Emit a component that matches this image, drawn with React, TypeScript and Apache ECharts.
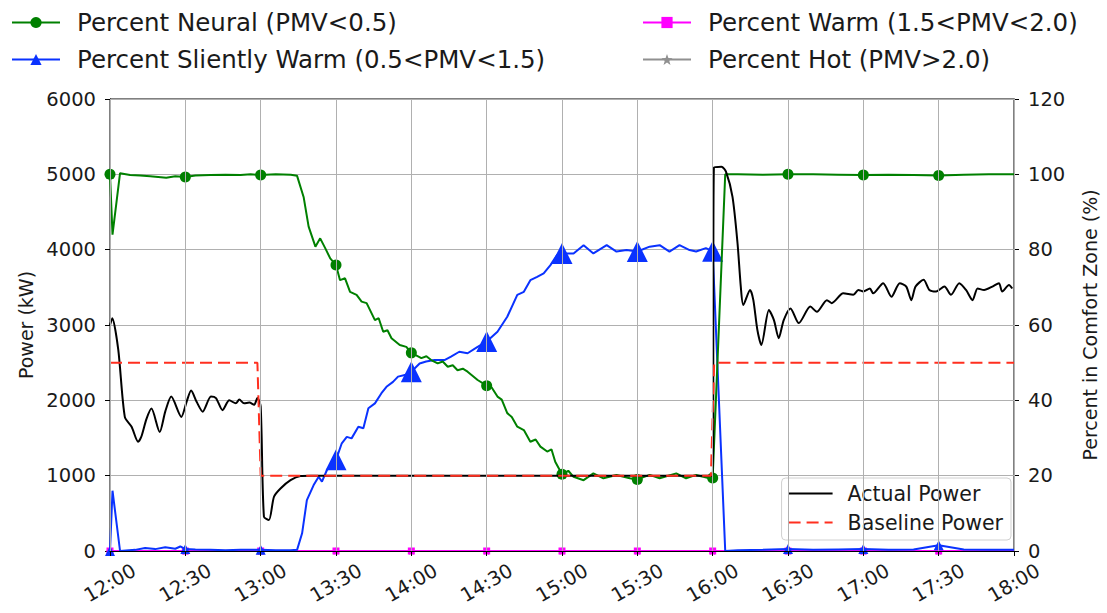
import React, { useEffect, useRef } from "react";
import * as echarts from "echarts";

// Time axis is in minutes after 12:00; every 30 minutes gets a tick.
const timeTicks = ["12:00", "12:30", "13:00", "13:30", "14:00", "14:30", "15:00", "15:30", "16:00", "16:30", "17:00", "17:30", "18:00"];

// [minute, kW]
const actualPower: [number, number][] = [
  [0, 3000], [0.9, 3090], [3.3, 2670], [5.9, 1780], [8.6, 1650], [11.2, 1450], [12.5, 1520], [14.5, 1750],
  [16.5, 1890], [19.8, 1580], [22, 1850], [24.4, 2050], [28.4, 1780], [30.5, 1980], [32.3, 2130], [34.5, 1980],
  [36.9, 1850], [40.2, 2050], [42.2, 2030], [44.8, 1870], [47.5, 2000], [50.1, 1960], [51.5, 2010], [53.4, 1960],
  [55.5, 1970], [57.4, 1940], [58.7, 2030], [60, 1920], [61.3, 455], [63.3, 412], [65.3, 720], [67.9, 830],
  [71.9, 940], [75.8, 995], [80, 1000], [120, 1000], [180, 1000], [240, 1000], [240.5, 5090], [243.5, 5100],
  [245.3, 5035], [247.9, 4700], [249.9, 4085], [251.2, 3510], [252.2, 3265], [254.9, 3465], [256.2, 3330],
  [257.8, 2935], [259.4, 2735], [262.4, 3200], [264.4, 3065], [266.3, 2825], [268.3, 3065], [271, 3220],
  [274.3, 3025], [278.9, 3245], [281.5, 3175], [285.5, 3330], [287.4, 3290], [292, 3420], [296, 3400],
  [298, 3465], [300, 3445], [302.6, 3485], [303.9, 3420], [307.9, 3555], [311.2, 3375], [314.5, 3555],
  [317.1, 3510], [319.1, 3330], [320.8, 3510], [324, 3600], [326.3, 3465], [329, 3445], [332.3, 3510],
  [334.9, 3400], [338.2, 3555], [340.9, 3465], [343.5, 3330], [345.5, 3485], [348.1, 3465], [351.4, 3510],
  [354, 3555], [355.3, 3445], [358, 3530], [359.3, 3485],
];

const baselinePower: [number, number][] = [
  [0, 2500], [58.7, 2500], [60, 1000], [239.3, 1000], [240.6, 2500], [360, 2500],
];

// [minute, % of occupants]
const neutralPct: [number, number][] = [
  [0, 100], [1, 84], [4, 100.3], [8, 99.8], [12, 99.7], [16, 99.5], [22.4, 99.1], [26, 99.5], [30, 99.3],
  [34, 99.7], [40, 99.8], [46, 99.9], [52, 99.8], [56, 100], [60, 99.8], [66, 100], [72, 99.9], [74.5, 99.6],
  [77.1, 94], [79.1, 86.1], [81.8, 80.8], [83.7, 83], [85.7, 80.4], [87.7, 77.7], [90, 75.9], [91.6, 71.9],
  [93.6, 72.4], [95.6, 68.8], [98.2, 68], [100.2, 66.2], [102.2, 65.8], [105.5, 61.3], [107, 61.8], [108.8, 58.2],
  [110.5, 58.6], [112.1, 56.5], [115.4, 54.7], [118, 54.2], [120, 52.6], [124, 51.2], [126, 51.7], [127.9, 50.7],
  [130.5, 49.8], [132.5, 50.3], [134.5, 48.9], [136.5, 49.3], [138.4, 48], [140.5, 48.4], [142.4, 47.6],
  [146.4, 45.4], [150, 43.9], [152, 43.4], [154.3, 41], [156, 40.2], [158.2, 36.6], [160, 35.6], [162.2, 33],
  [164.8, 32.1], [167.4, 29], [169.5, 29.6], [171.4, 27.7], [174.1, 26.4], [175.8, 27], [177.3, 23.7], [180, 20.4],
  [182.5, 21.3], [184.6, 19.7], [188.6, 18.8], [192.5, 20.6], [196.5, 19.3], [201.7, 20.2], [207, 19.3], [210, 19],
  [214.9, 20.2], [218.9, 19.3], [225.5, 20.6], [229.4, 19.3], [233.4, 20.2], [238.7, 19.3], [240, 19.4],
  [245, 100], [250, 100], [260, 99.9], [270, 100], [280, 100], [290, 99.9], [300, 99.8], [310, 99.9],
  [320, 99.8], [330, 99.7], [340, 99.9], [350, 100], [360, 100],
];

const slightlyWarmPct: [number, number][] = [
  [0, 0], [1, 16], [4, 0], [10, 0.3], [14, 0.8], [18, 0.5], [22, 1], [26, 0.6], [28, 1.2], [30, 0.5],
  [34, 0.4], [40, 0.3], [46, 0.2], [52, 0.3], [60, 0.3], [66, 0.2], [72, 0.2], [74.5, 0.3], [76.5, 4.7],
  [78.4, 13.5], [81.1, 17.5], [83.1, 19.7], [84.4, 18.4], [86.4, 21.5], [90, 24.2], [92.3, 28.6],
  [94.3, 30.3], [96.2, 29.9], [98.9, 33], [100.9, 32.6], [102.9, 37.9], [105.5, 39.2], [108.1, 41.9],
  [110.1, 43.6], [112.7, 44.9], [114.7, 46.3], [117.4, 46.7], [120, 47.6], [123.3, 49.8], [125.9, 50.3],
  [129.2, 50.7], [133.2, 50.7], [135.8, 51.6], [139.1, 52.9], [142.4, 52.5], [146.4, 54.2], [150, 55.6],
  [154.3, 58.2], [158.2, 62.2], [162.2, 68], [164.8, 68.8], [167.4, 71.9], [170.1, 72.8], [172.7, 73.7],
  [175.4, 75.9], [178, 78.6], [180, 79], [184.6, 79], [188.6, 81.2], [192.5, 79], [197.8, 81.2],
  [201.7, 79.5], [205.7, 79.9], [210, 79.5], [214.9, 80.8], [218.9, 81.2], [222.8, 79.5], [226.8, 81.2],
  [230.8, 79.9], [233.4, 79.5], [237.3, 80.4], [240, 79.6], [245, 0], [250, 0.2], [260, 0.3], [270, 0.5],
  [280, 0.3], [290, 0.4], [300, 0.5], [310, 0.3], [320, 0.4], [330, 1.5], [340, 0.4], [350, 0.3], [360, 0.3],
];

const warmPct: [number, number][] = [
  [0, 0], [30, 0], [60, 0], [90, 0], [120, 0], [150, 0], [180, 0], [210, 0], [240, 0], [270, 0], [300, 0], [330, 0], [360, 0],
];

const hotPct: [number, number][] = [
  [0, 0], [30, 0], [60, 0], [90, 0], [120, 0], [150, 0], [180, 0], [210, 0], [240, 0], [270, 0], [300, 0], [330, 0], [360, 0],
];

const FONT = "DejaVu Sans";
const TEXT = "#1a1a1a";

const NAME_NEUTRAL = "Percent Neural (PMV<0.5)";
const NAME_SWARM = "Percent Sliently Warm (0.5<PMV<1.5)";
const NAME_WARM = "Percent Warm (1.5<PMV<2.0)";
const NAME_HOT = "Percent Hot (PMV>2.0)";

const STAR =
  "path://M0,-10 L2.35,-3.24 L9.51,-3.09 L3.8,1.24 L5.88,8.09 L0,4 L-5.88,8.09 L-3.8,1.24 L-9.51,-3.09 L-2.35,-3.24 Z";

// Markers are placed every 30 minutes, like a markevery setting.
const isMarkTime = (m: number) => m % 30 === 0 && m < 360;

const marked = (pts: [number, number][], size: (v: number) => number) =>
  pts.map(([m, v]) =>
    isMarkTime(m) ? { value: [m, v], symbolSize: size(v) } : { value: [m, v], symbol: "none" }
  );

const fmtTime = (v: number) => timeTicks[Math.round(v / 30)] ?? "";

export default function App() {
  const ref = useRef<HTMLDivElement>(null);

  useEffect(() => {
    if (!ref.current) return;
    const chart = echarts.init(ref.current, undefined, { renderer: "svg" });

    const pctLine = (
      name: string,
      color: string,
      symbol: string,
      pts: [number, number][],
      size: (v: number) => number,
      z: number
    ) => ({
      name,
      type: "line",
      yAxisIndex: 1,
      data: marked(pts, size),
      symbol,
      showAllSymbol: true,
      z,
      lineStyle: { color, width: 2 },
      itemStyle: { color },
      emphasis: { disabled: true },
    });

    const topLegend = (left: number, names: string[]) => ({
      orient: "vertical",
      left,
      top: 5,
      itemWidth: 48,
      itemHeight: 14,
      itemGap: 12,
      data: names,
      textStyle: { fontSize: 24.5, color: TEXT, fontFamily: FONT, padding: [0, 0, 0, 12] },
    });

    chart.setOption({
      animation: false,
      textStyle: { fontFamily: FONT },
      grid: {
        left: 110,
        right: 87,
        top: 99,
        bottom: 62,
        show: true,
        borderColor: "#000",
        borderWidth: 1,
        backgroundColor: "#fff",
      },
      legend: [
        topLegend(6, [NAME_NEUTRAL, NAME_SWARM]),
        topLegend(637, [NAME_WARM, NAME_HOT]),
        {
          orient: "vertical",
          right: 96,
          bottom: 73,
          itemWidth: 44,
          itemHeight: 12,
          itemGap: 8,
          padding: [5, 8, 7, 6],
          backgroundColor: "rgba(255,255,255,0.85)",
          borderColor: "#d0d0d0",
          borderWidth: 1,
          borderRadius: 4,
          data: [
            { name: "Actual Power", itemStyle: { opacity: 0 } },
            { name: "Baseline Power", itemStyle: { opacity: 0 } },
          ],
          textStyle: { fontSize: 20.5, color: TEXT, fontFamily: FONT, padding: [0, 0, 0, 10] },
        },
      ],
      xAxis: {
        type: "value",
        min: 0,
        max: 360,
        interval: 30,
        z: 10,
        axisLine: { show: true, lineStyle: { color: "#000", width: 1 } },
        axisTick: { show: true, length: 5, lineStyle: { color: "#000" } },
        splitLine: { show: true, lineStyle: { color: "#b0b0b0", width: 1 } },
        axisLabel: {
          formatter: fmtTime,
          rotate: 30,
          align: "center",
          verticalAlign: "middle",
          margin: 32,
          fontSize: 19.5,
          color: TEXT,
          fontFamily: FONT,
          showMinLabel: true,
          showMaxLabel: true,
        },
      },
      yAxis: [
        {
          type: "value",
          min: 0,
          max: 6000,
          interval: 1000,
          name: "Power (kW)",
          nameLocation: "middle",
          nameGap: 75,
          nameTextStyle: { fontSize: 19, color: TEXT, fontFamily: FONT },
          axisLine: { show: true, lineStyle: { color: "#000", width: 1 } },
          axisTick: { show: true, length: 5, lineStyle: { color: "#000" } },
          splitLine: { show: true, lineStyle: { color: "#b0b0b0", width: 1 } },
          axisLabel: { fontSize: 19.5, color: TEXT, fontFamily: FONT, margin: 14, formatter: (v: number) => String(v) },
        },
        {
          type: "value",
          min: 0,
          max: 120,
          interval: 20,
          name: "Percent in Comfort Zone (%)",
          nameLocation: "middle",
          nameGap: 66,
          nameRotate: 90,
          nameTextStyle: { fontSize: 19, color: TEXT, fontFamily: FONT },
          axisLine: { show: true, lineStyle: { color: "#000", width: 1 } },
          axisTick: { show: true, length: 5, lineStyle: { color: "#000" } },
          splitLine: { show: false },
          axisLabel: { fontSize: 19.5, color: TEXT, fontFamily: FONT, margin: 14, formatter: (v: number) => String(v) },
        },
      ],
      series: [
        pctLine(NAME_HOT, "#909090", STAR, hotPct, () => 8, 2),
        pctLine(NAME_WARM, "#ff00ff", "rect", warmPct, () => 7, 3),
        pctLine(NAME_SWARM, "#0a32ff", "triangle", slightlyWarmPct, (v) => (v > 5 ? 21 : 10), 4),
        pctLine(NAME_NEUTRAL, "#008000", "circle", neutralPct, () => 11, 5),
        {
          name: "Actual Power",
          type: "line",
          yAxisIndex: 0,
          data: actualPower,
          symbol: "none",
          smooth: 0.25,
          z: 6,
          lineStyle: { color: "#000", width: 2 },
          itemStyle: { color: "#000" },
          emphasis: { disabled: true },
        },
        {
          name: "Baseline Power",
          type: "line",
          yAxisIndex: 0,
          data: baselinePower,
          symbol: "none",
          z: 7,
          lineStyle: { color: "#ff2f1f", width: 2, type: [12, 6] },
          itemStyle: { color: "#ff2f1f" },
          emphasis: { disabled: true },
        },
      ],
    });

    return () => chart.dispose();
  }, []);

  return <div ref={ref} style={{ width: 1107, height: 613, position: "absolute", left: 0, top: 0 }} />;
}
